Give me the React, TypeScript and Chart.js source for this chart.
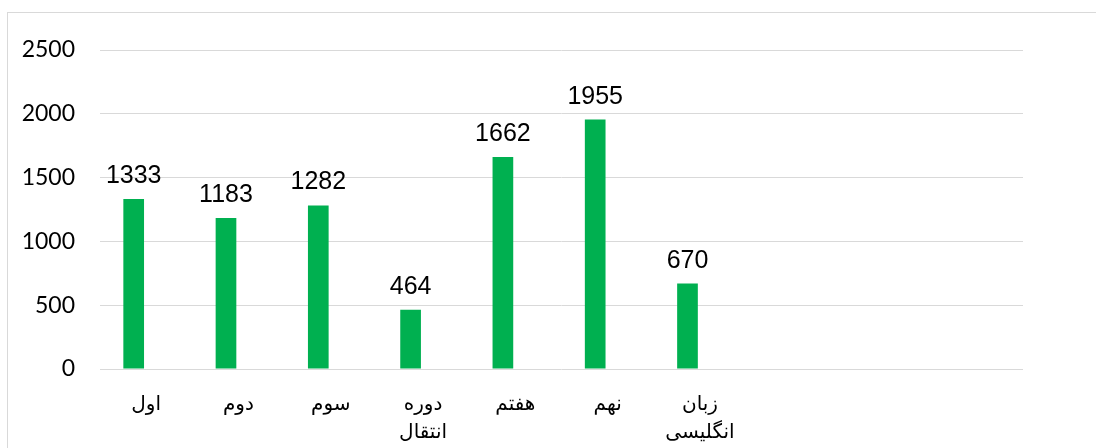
import React, { useEffect, useRef } from 'react';
import { Chart, registerables } from 'chart.js';

Chart.register(...registerables);

const categories: (string | string[])[] = [
  'اول',
  'دوم',
  'سوم',
  ['دوره', 'انتقال'],
  'هفتم',
  'نهم',
  ['زبان', 'انگلیسی'],
  '',
  '',
  '',
];
const values: (number | null)[] = [1333, 1183, 1282, 464, 1662, 1955, 670, null, null, null];
const emptySeries: (number | null)[] = [null, null, null, null, null, null, null, null, null, null];
const yMin = 0;
const yMax = 2500;
const yStep = 500;

const valueLabelPlugin = {
  id: 'valueLabels',
  afterDatasetsDraw(chart: any) {
    const ctx = chart.ctx;
    const meta = chart.getDatasetMeta(0);
    ctx.save();
    ctx.font = '25px "Liberation Sans", Arial, sans-serif';
    ctx.fillStyle = '#000';
    ctx.textAlign = 'center';
    ctx.textBaseline = 'alphabetic';
    meta.data.forEach((el: any, i: number) => {
      const v = values[i];
      if (v == null) return;
      ctx.fillText(String(v), el.x, el.y - 16);
    });
    ctx.restore();
  },
};

export default function App() {
  const canvasRef = useRef<HTMLCanvasElement | null>(null);

  useEffect(() => {
    if (!canvasRef.current) return;
    const chart = new Chart(canvasRef.current, {
      type: 'bar',
      data: {
        labels: categories as any,
        datasets: [
          {
            data: values,
            backgroundColor: '#00B050',
            categoryPercentage: 0.54,
            barPercentage: 0.83,
          },
          {
            data: emptySeries,
            backgroundColor: '#00B050',
            categoryPercentage: 0.54,
            barPercentage: 0.83,
          },
        ],
      },
      options: {
        responsive: false,
        animation: false,
        layout: { padding: { top: 50, right: 73, left: 0, bottom: 0 } },
        plugins: {
          legend: { display: false },
          tooltip: { enabled: false },
        },
        scales: {
          x: {
            grid: { display: false, drawTicks: false },
            border: { display: false },
            ticks: {
              color: '#000',
              font: { family: '"Liberation Sans", Arial, "DejaVu Sans", sans-serif', size: 20, lineHeight: 1.4 },
              padding: 21,
              maxRotation: 0,
              autoSkip: false,
            },
            afterFit: (s: any) => {
              s.height = 79;
            },
          },
          y: {
            min: yMin,
            max: yMax,
            ticks: {
              stepSize: yStep,
              color: '#000',
              font: { family: 'Lato, "Open Sans", sans-serif', size: 23 },
              padding: 25,
              callback: (v: any) => String(v),
            },
            grid: { color: '#d9d9d9', lineWidth: 1, drawTicks: false },
            border: { display: false },
            afterFit: (s: any) => {
              s.width = 100;
            },
          },
        },
      },
      plugins: [valueLabelPlugin],
    });
    return () => chart.destroy();
  }, []);

  return (
    <div
      style={{
        position: 'fixed',
        left: 0,
        top: 0,
        width: 1096,
        height: 448,
        overflow: 'hidden',
        background: '#fff',
      }}
    >
      <div
        style={{
          position: 'absolute',
          left: 7,
          top: 12,
          width: 1200,
          height: 600,
          border: '1px solid #d9d9d9',
        }}
      />
      <canvas
        ref={canvasRef}
        width={1096}
        height={448}
        style={{ position: 'absolute', left: 0, top: 0, width: 1096, height: 448 }}
      />
    </div>
  );
}
